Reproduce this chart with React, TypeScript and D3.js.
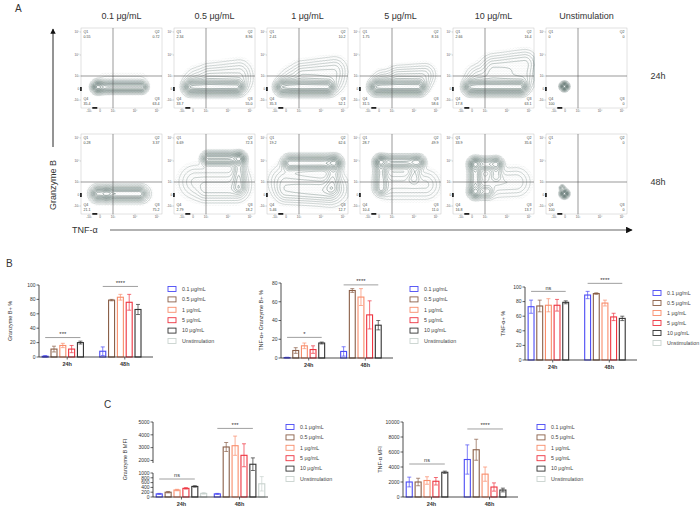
import React, { useMemo } from 'react';
import * as d3 from 'd3';

const concentrations = ['0.1 μg/mL', '0.5 μg/mL', '1 μg/mL', '5 μg/mL', '10 μg/mL', 'Unstimulation'];
const timepoints = ['24h', '48h'];
const palette = ['#4b4bf5', '#8a5f48', '#f98d6b', '#ee3440', '#333333', '#c9d3cf'];

// Panel A: quadrant percentages (Q1 top-left, Q2 top-right, Q3 bottom-right, Q4 bottom-left)
const q1_24 = ['0.55', '2.34', '2.41', '1.75', '2.66', '0'];
const q2_24 = ['0.72', '8.96', '10.2', '8.16', '16.4', '0'];
const q3_24 = ['63.4', '55.0', '52.1', '58.6', '63.1', '0'];
const q4_24 = ['35.4', '33.7', '35.3', '31.5', '17.8', '100'];
const q1_48 = ['0.28', '6.69', '19.2', '28.7', '33.9', '0'];
const q2_48 = ['3.37', '72.3', '62.6', '49.9', '35.6', '0'];
const q3_48 = ['75.2', '18.2', '12.7', '11.0', '13.7', '0'];
const q4_48 = ['21.1', '2.79', '5.46', '10.4', '16.8', '100'];

// Panel A: population ridges, [x1, y1, x2, y2, spread, weight] in log-decade units
const populations24 = [
  [[-0.2, 0.15, 2.3, 0.15, 3, 1], [-0.2, 0.15, -0.2, 0.15, 3.5, 0.5], [0.5, 0.6, 2.2, 0.6, 6, 0.06]],
  [[-0.2, 0.15, 2.4, 0.15, 4, 1], [1.2, 1.0, 2.5, 1.2, 7, 0.15], [0.3, 0.6, 2.5, 0.6, 7, 0.2]],
  [[-0.3, 0.15, 2.3, 0.15, 4, 1], [1.2, 1.1, 2.6, 1.3, 7, 0.2], [0.4, 0.6, 2.5, 0.6, 7, 0.2]],
  [[-0.2, 0.15, 2.2, 0.15, 4, 1], [1.3, 1.0, 2.5, 1.1, 6, 0.15], [0.3, 0.6, 2.3, 0.6, 6, 0.2]],
  [[-0.1, 0.15, 2.6, 0.15, 4, 1], [1.4, 1.4, 2.8, 1.6, 7, 0.25], [0.5, 0.8, 2.7, 0.8, 7, 0.25]],
  [[-0.05, 0.2, -0.05, 0.2, 2.2, 1]],
];
const populations48 = [
  [[-0.2, 0.1, 0.3, 0.1, 3.5, 1], [0.8, 0.1, 2.2, 0.1, 3.5, 0.9], [-0.2, 0.1, 2.3, 0.1, 5, 0.3]],
  [[1.1, 2.1, 2.5, 2.1, 3.5, 1], [2.5, 2.1, 2.5, 0.6, 3.5, 0.5], [0.2, 1.0, 2.3, 1.0, 9, 0.25], [1.0, 0.3, 2.4, 0.3, 6, 0.2]],
  [[0.3, 1.9, 2.6, 1.9, 4, 1], [2.6, 1.9, 2.5, 0.6, 4, 0.35], [0.0, 1.0, 2.5, 0.5, 9, 0.3], [0.0, 0.2, 2.3, 0.2, 6, 0.2]],
  [[0.15, 1.95, 2.2, 1.95, 3.5, 1], [0.15, 1.95, 0.15, 0.5, 3.5, 0.8], [2.1, 1.9, 2.0, 1.2, 3.5, 0.4], [0.8, 0.8, 2.5, 0.8, 8, 0.3]],
  [[0.25, 1.85, 1.5, 1.85, 3.5, 1], [0.25, 1.85, 0.25, 0.25, 3.5, 1], [0.25, 0.25, 1.1, 0.25, 3.5, 0.7], [1.5, 1.85, 1.5, 1.3, 3.5, 0.5], [1.2, 0.9, 2.4, 1.0, 8, 0.3]],
  [[-0.05, 0.1, -0.05, 0.1, 2.2, 1], [-0.25, 0.55, -0.25, 0.55, 1.5, 0.3]],
];
const flowTickValues = [-1, 0, 1, 2, 3];
const flowTickLabels = ['-10³', '0', '10³', '10⁴', '10⁵'];

// Panel B
const gzbPct24 = [1, 11, 16, 11, 20, 0];
const gzbPct48 = [8, 79, 83, 76, 66, 0];
const gzbPctSd24 = [1, 4, 3, 5, 2, 0];
const gzbPctSd48 = [6, 1, 4, 11, 7, 0];
const dblPct24 = [0.5, 8, 13, 9, 16, 0];
const dblPct48 = [7, 72, 65, 46, 35, 0];
const dblPctSd24 = [0.3, 3, 3, 4, 1, 0];
const dblPctSd48 = [5, 2, 9, 15, 5, 0];
const tnfPct24 = [73, 74, 75, 75, 79, 0];
const tnfPct48 = [89, 91, 78, 59, 57, 0];
const tnfPctSd24 = [9, 8, 9, 8, 2, 0];
const tnfPctSd48 = [5, 1, 4, 5, 3, 0];

// Panel C
const gzbMfi24 = [130, 200, 290, 360, 440, 150];
const gzbMfi48 = [130, 3050, 3150, 2400, 1700, 550];
const gzbMfiSd24 = [20, 30, 30, 30, 30, 30];
const gzbMfiSd48 = [20, 350, 750, 900, 500, 300];
const tnfMfi24 = [2000, 2000, 2200, 2100, 3300, 0];
const tnfMfi48 = [5000, 6300, 3050, 1330, 930, 0];
const tnfMfiSd24 = [650, 500, 500, 500, 150, 0];
const tnfMfiSd48 = [1950, 1400, 950, 550, 250, 0];

const font = 'Liberation Sans, Arial, sans-serif';
const levels = [0.03, 0.06, 0.1, 0.15, 0.21, 0.28, 0.36, 0.45, 0.55, 0.66, 0.78, 0.9];

const FW = 81;
const FH = 80;
const xFlow = d3.scaleLinear().domain([-1.7, -1, 0, 1, 2, 3, 3.2]).range([0, 8, 19, 32, 54, 76, 81]);
const yFlow = d3.scaleLinear().domain([-1.7, -1, 0, 1, 2, 3, 3.2]).range([80, 72, 61, 48, 27, 4, 0]);

function segDist2(px: number, py: number, ax: number, ay: number, bx: number, by: number) {
  const dx = bx - ax, dy = by - ay;
  const L = dx * dx + dy * dy;
  let t = L > 0 ? ((px - ax) * dx + (py - ay) * dy) / L : 0;
  t = Math.max(0, Math.min(1, t));
  const qx = ax + t * dx - px, qy = ay + t * dy - py;
  return qx * qx + qy * qy;
}

function FlowPlot({ x0, y0, segs, q }: { x0: number; y0: number; segs: number[][]; q: string[] }) {
  const { fillPath, lines } = useMemo(() => {
    const R = 2;
    const nx = FW * R, ny = FH * R;
    const values = new Float64Array(nx * ny);
    let max = 0;
    for (let j = 0; j < ny; j++) {
      for (let i = 0; i < nx; i++) {
        const px = (i + 0.5) / R, py = (j + 0.5) / R;
        let v = 0;
        for (const [x1, y1, x2, y2, s, w] of segs) {
          const d2 = segDist2(px, py, xFlow(x1), yFlow(y1), xFlow(x2), yFlow(y2));
          v += w * Math.exp(-d2 / (2 * s * s));
        }
        values[j * nx + i] = v;
        if (v > max) max = v;
      }
    }
    const path = d3.geoPath(d3.geoIdentity().scale(1 / R) as any);
    const outer = d3.contours().size([nx, ny]).thresholds([max * 0.012])(values as any);
    const cs = d3.contours().size([nx, ny]).thresholds(levels.map(l => l * max))(values as any);
    return {
      fillPath: path(outer[0] as any) || '',
      lines: cs.map((c, k) => ({ d: path(c as any) || '', k })),
    };
  }, [segs]);

  return (
    <g transform={`translate(${x0},${y0})`}>
      <rect width={FW} height={FH} fill="white" stroke="#c4c4c4" strokeWidth={0.5} />
      <path d={fillPath} fill="url(#dots)" />
      {lines.map(l => (
        <path key={l.k} d={l.d} fill="none" stroke="#23403a" strokeWidth={0.45}
          strokeOpacity={0.4 + 0.55 * (l.k / (levels.length - 1))} />
      ))}
      <line x1={xFlow(1)} x2={xFlow(1)} y1={0} y2={FH} stroke="#555" strokeWidth={0.6} />
      <line x1={0} x2={FW} y1={yFlow(1)} y2={yFlow(1)} stroke="#555" strokeWidth={0.6} />
      <rect x={-1} y={yFlow(0) - 2} width={1.8} height={4} fill="#222" />
      <rect x={xFlow(-0.7)} y={FH - 1} width={5} height={1.8} fill="#222" />
      {flowTickValues.map((t, i) => (
        <g key={i}>
          <line x1={-1.3} x2={0} y1={yFlow(t)} y2={yFlow(t)} stroke="#777" strokeWidth={0.3} />
          <text x={-1.8} y={yFlow(t)} dy="0.35em" textAnchor="end" fontSize={3} fill="#555">{flowTickLabels[i]}</text>
          <line x1={xFlow(t)} x2={xFlow(t)} y1={FH} y2={FH + 1.3} stroke="#777" strokeWidth={0.3} />
          <text x={xFlow(t)} y={FH + 4.3} textAnchor="middle" fontSize={3} fill="#555">{flowTickLabels[i]}</text>
        </g>
      ))}
      <g fontSize={3.6} fill="#444">
        <text x={2.5} y={5}>Q1</text>
        <text x={2.5} y={9.5}>{q[0]}</text>
        <text x={FW - 2.5} y={5} textAnchor="end">Q2</text>
        <text x={FW - 2.5} y={9.5} textAnchor="end">{q[1]}</text>
        <text x={2.5} y={FH - 8}>Q4</text>
        <text x={2.5} y={FH - 3.5}>{q[3]}</text>
        <text x={FW - 2.5} y={FH - 8} textAnchor="end">Q3</text>
        <text x={FW - 2.5} y={FH - 3.5} textAnchor="end">{q[2]}</text>
      </g>
    </g>
  );
}

type Sig = { group: string; label: string; value: number };

function BarChart(props: {
  x0: number; x1: number; y: d3.ScaleLinear<number, number>;
  axes: number[][]; ticks: number[];
  v24: number[]; v48: number[]; sd24: number[]; sd48: number[];
  sig: Sig[]; yLabel: string; yLabelX: number;
  legendX: number; legendY: number; legendStep: number;
}) {
  const { x0, x1, y, axes, ticks, v24, v48, sd24, sd48, sig, yLabel, yLabelX, legendX, legendY, legendStep } = props;
  const gx = d3.scaleBand().domain(timepoints).range([x0, x1]).paddingInner(0.1).paddingOuter(0.04);
  const bx = d3.scaleBand().domain(concentrations).range([0, gx.bandwidth()]).paddingInner(0.32).paddingOuter(0.1);
  const bw = bx.bandwidth();
  const base = y(0);
  const series = [{ g: '24h', v: v24, sd: sd24 }, { g: '48h', v: v48, sd: sd48 }];
  const yMid = (y(0) + y(y.domain()[y.domain().length - 1])) / 2;
  return (
    <g fontFamily={font}>
      {series.map(s => s.v.map((v, i) => {
        const x = (gx(s.g) as number) + (bx(concentrations[i]) as number);
        const cx = x + bw / 2;
        const top = y(v + s.sd[i]);
        const bot = y(Math.max(0, v - s.sd[i]));
        return (
          <g key={s.g + i}>
            <rect x={x} y={y(v)} width={bw} height={base - y(v)} fill="white" stroke={palette[i]} strokeWidth={1.1} />
            {s.sd[i] > 0 && (
              <g stroke={palette[i]} strokeWidth={0.7}>
                <line x1={cx} x2={cx} y1={top} y2={bot} />
                <line x1={cx - 2} x2={cx + 2} y1={top} y2={top} />
                <line x1={cx - 2} x2={cx + 2} y1={bot} y2={bot} />
              </g>
            )}
          </g>
        );
      }))}
      {axes.map((a, k) => (
        <line key={k} x1={x0} x2={x0} y1={y(a[0])} y2={y(a[1])} stroke="#222" strokeWidth={0.8} />
      ))}
      {ticks.map(t => (
        <g key={t}>
          <line x1={x0 - 2.5} x2={x0} y1={y(t)} y2={y(t)} stroke="#222" strokeWidth={0.7} />
          <text x={x0 - 3.5} y={y(t)} dy="0.35em" textAnchor="end" fontSize={5} fill="#333">{t}</text>
        </g>
      ))}
      <line x1={x0} x2={x1} y1={base} y2={base} stroke="#222" strokeWidth={0.8} />
      {timepoints.map(g => {
        const c = (gx(g) as number) + gx.bandwidth() / 2;
        return (
          <g key={g}>
            <line x1={c} x2={c} y1={base} y2={base + 2.5} stroke="#222" strokeWidth={0.7} />
            <text x={c} y={base + 9} textAnchor="middle" fontSize={5.5} fontWeight="bold" fill="#333">{g}</text>
          </g>
        );
      })}
      {sig.map(s => {
        const g0 = gx(s.group) as number;
        const a = g0 + (bx(concentrations[0]) as number) + bw / 2;
        const b = g0 + (bx(concentrations[4]) as number) + bw / 2;
        return (
          <g key={s.group}>
            <line x1={a} x2={b} y1={y(s.value)} y2={y(s.value)} stroke="#888" strokeWidth={0.8} />
            <text x={(a + b) / 2} y={y(s.value) - 1.6} textAnchor="middle" fontSize={s.label === 'ns' ? 5.5 : 6} fill="#333">{s.label}</text>
          </g>
        );
      })}
      <text transform={`translate(${yLabelX},${yMid}) rotate(-90)`} textAnchor="middle" fontSize={5.5} fill="#333">{yLabel}</text>
      {concentrations.map((c, i) => (
        <g key={c}>
          <rect x={legendX} y={legendY + i * legendStep - 2.5} width={8} height={5} fill="white" stroke={palette[i]} strokeWidth={0.9} />
          <text x={legendX + 14} y={legendY + i * legendStep} dy="0.35em" fontSize={5.3} fill="#444">{c}</text>
        </g>
      ))}
    </g>
  );
}

export default function App() {
  const colX = d3.scalePoint().domain(concentrations).range([81, 546]);
  const rowY = d3.scalePoint().domain(timepoints).range([28, 134]);
  const rows = [
    { t: '24h', pops: populations24, q: [q1_24, q2_24, q3_24, q4_24] },
    { t: '48h', pops: populations48, q: [q1_48, q2_48, q3_48, q4_48] },
  ];

  const yB1 = d3.scaleLinear().domain([0, 100]).range([357, 285]);
  const yB2 = d3.scaleLinear().domain([0, 80]).range([358, 283]);
  const yB3 = d3.scaleLinear().domain([0, 100]).range([360, 287]);
  const yC1 = d3.scaleLinear().domain([0, 1000, 1800, 5000]).range([497, 473, 463, 422]);
  const yC2 = d3.scaleLinear().domain([0, 10000]).range([497, 422]);

  return (
    <svg width={700} height={508} style={{ position: 'absolute', left: 0, top: 0 }} fontFamily={font}>
      <defs>
        <pattern id="dots" width={2.9} height={2.6} patternUnits="userSpaceOnUse">
          <circle cx={1} cy={1} r={0.28} fill="#8a9894" />
          <circle cx={2.4} cy={2.2} r={0.22} fill="#9aa6a2" />
        </pattern>
        <marker id="arrow" viewBox="0 0 10 10" refX={9} refY={5} markerWidth={6} markerHeight={6} orient="auto">
          <path d="M0,0 L10,5 L0,10 z" fill="#111" />
        </marker>
      </defs>
      <rect width={700} height={508} fill="white" />

      {/* Panel A */}
      <text x={15} y={12} fontSize={10} fill="#333">A</text>
      {concentrations.map(c => (
        <text key={c} x={(colX(c) as number) + FW / 2} y={19} textAnchor="middle" fontSize={9} fill="#333">{c}</text>
      ))}
      {rows.map(r => (
        <g key={r.t}>
          {concentrations.map((c, i) => (
            <FlowPlot key={c} x0={colX(c) as number} y0={rowY(r.t) as number} segs={r.pops[i]}
              q={[r.q[0][i], r.q[1][i], r.q[2][i], r.q[3][i]]} />
          ))}
          <text x={658} y={(rowY(r.t) as number) + 51} textAnchor="middle" fontSize={9} fill="#333">{r.t}</text>
        </g>
      ))}
      <line x1={53} x2={53} y1={147} y2={29} stroke="#111" strokeWidth={0.9} markerEnd="url(#arrow)" />
      <text transform="translate(56,185) rotate(-90)" textAnchor="middle" fontSize={9} fill="#333">Granzyme B</text>
      <text x={72} y={233} fontSize={9} fill="#333">TNF-α</text>
      <line x1={110} x2={632} y1={230} y2={230} stroke="#666" strokeWidth={1.1} markerEnd="url(#arrow)" />

      {/* Panel B */}
      <text x={6} y={267} fontSize={10} fill="#333">B</text>
      <BarChart x0={39} x1={153} y={yB1} axes={[[0, 100]]} ticks={[0, 20, 40, 60, 80, 100]}
        v24={gzbPct24} v48={gzbPct48} sd24={gzbPctSd24} sd48={gzbPctSd48}
        sig={[{ group: '24h', label: '***', value: 27 }, { group: '48h', label: '****', value: 98 }]}
        yLabel="Granzyme B+ %" yLabelX={12} legendX={168} legendY={289} legendStep={10.4} />
      <BarChart x0={281} x1={393} y={yB2} axes={[[0, 80]]} ticks={[0, 20, 40, 60, 80]}
        v24={dblPct24} v48={dblPct48} sd24={dblPctSd24} sd48={dblPctSd48}
        sig={[{ group: '24h', label: '*', value: 22 }, { group: '48h', label: '****', value: 78 }]}
        yLabel="TNF-α+ Granzyme B+ %" yLabelX={263} legendX={410} legendY={289} legendStep={10.4} />
      <BarChart x0={525} x1={637} y={yB3} axes={[[0, 100]]} ticks={[0, 20, 40, 60, 80, 100]}
        v24={tnfPct24} v48={tnfPct48} sd24={tnfPctSd24} sd48={tnfPctSd48}
        sig={[{ group: '24h', label: 'ns', value: 94 }, { group: '48h', label: '****', value: 105 }]}
        yLabel="TNF-α+ %" yLabelX={505} legendX={653} legendY={293} legendStep={10} />

      {/* Panel C */}
      <text x={104} y={408} fontSize={10} fill="#333">C</text>
      <BarChart x0={153} x1={268} y={yC1} axes={[[0, 1000], [1800, 5000]]}
        ticks={[0, 200, 400, 600, 800, 1000, 2000, 3000, 4000, 5000]}
        v24={gzbMfi24} v48={gzbMfi48} sd24={gzbMfiSd24} sd48={gzbMfiSd48}
        sig={[{ group: '24h', label: 'ns', value: 750 }, { group: '48h', label: '***', value: 4500 }]}
        yLabel="Granzyme B MFI" yLabelX={127} legendX={286} legendY={427} legendStep={10.4} />
      <BarChart x0={403} x1={518} y={yC2} axes={[[0, 10000]]} ticks={[0, 2000, 4000, 6000, 8000, 10000]}
        v24={tnfMfi24} v48={tnfMfi48} sd24={tnfMfiSd24} sd48={tnfMfiSd48}
        sig={[{ group: '24h', label: 'ns', value: 4400 }, { group: '48h', label: '****', value: 9070 }]}
        yLabel="TNF-α MFI" yLabelX={382} legendX={537} legendY={427} legendStep={10.4} />
    </svg>
  );
}
